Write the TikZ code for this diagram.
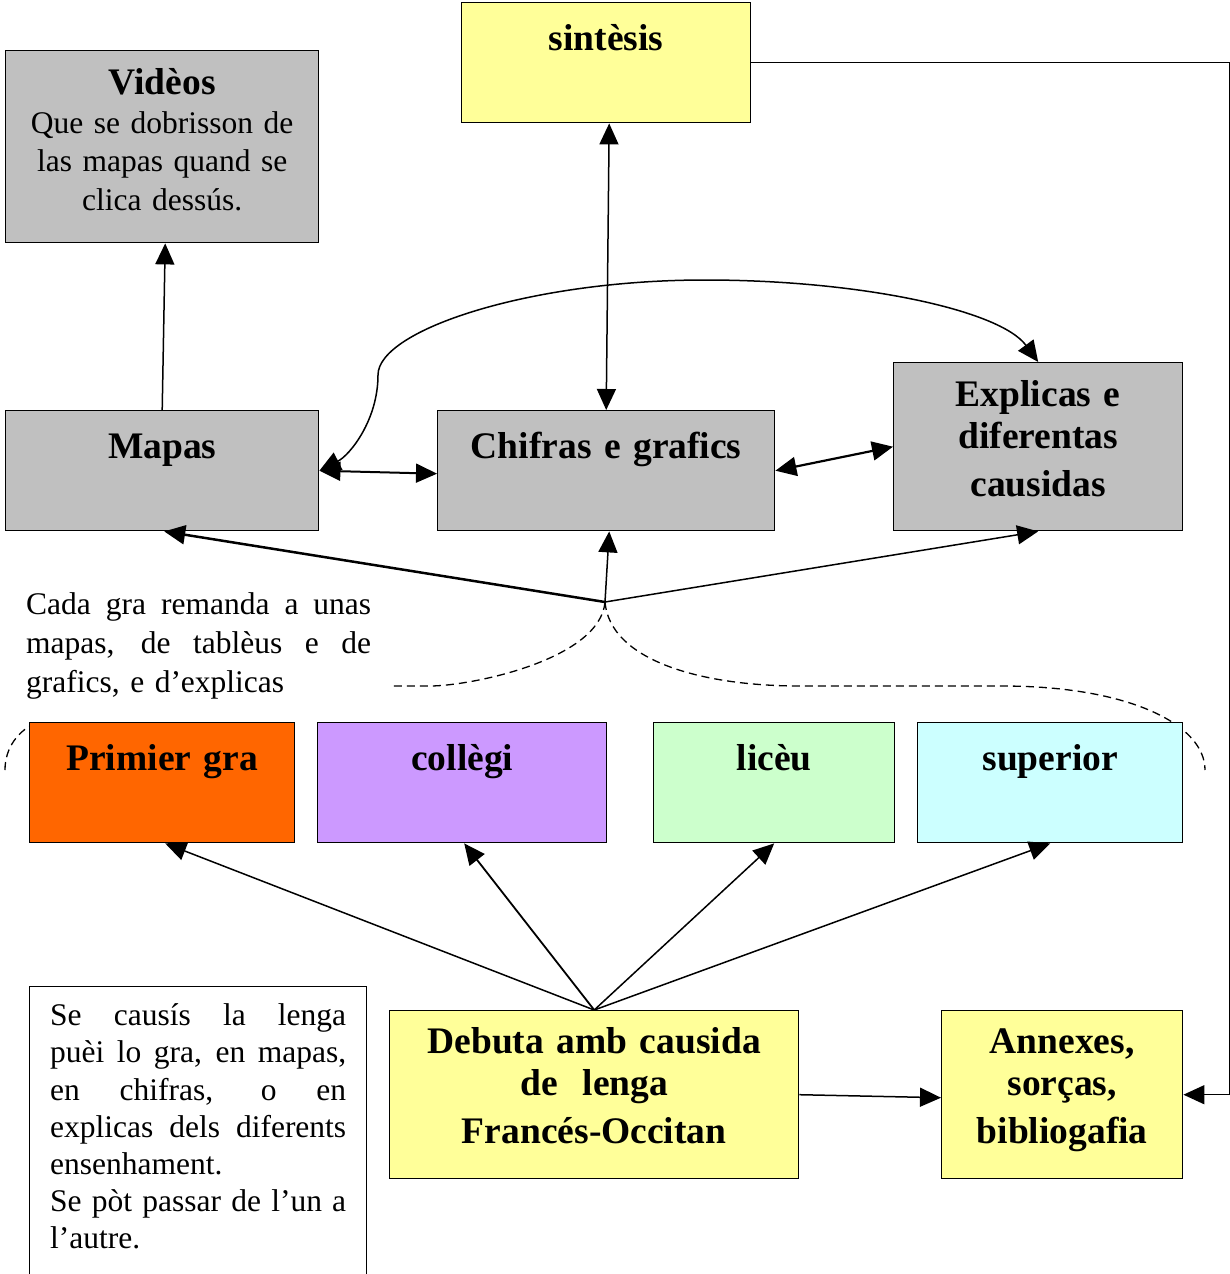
\documentclass[tikz,border=0pt]{standalone}
\usepackage{fontspec}
\setmainfont{Liberation Serif}
\usetikzlibrary{arrows.meta,calc}
\definecolor{cgray}{HTML}{C0C0C0}
\definecolor{cyellow}{HTML}{FFFF99}
\definecolor{corange}{HTML}{FF6600}
\definecolor{cpurple}{HTML}{CC99FF}
\definecolor{cgreen}{HTML}{CCFFCC}
\definecolor{ccyan}{HTML}{CCFFFF}
\newcommand\titlefnt{\fontsize{37.5}{42}\selectfont\bfseries}
\newcommand\bodyfnt{\fontsize{31.5}{38.5}\selectfont}
\newcommand\jline[1]{\makebox[\linewidth][s]{\spaceskip=0pt\relax\xspaceskip=0pt\relax #1}}
\begin{document}
\begin{tikzpicture}[x=1pt,y=-1pt,
  box/.style={draw, line width=1.4pt, inner sep=0pt, align=center, anchor=north west, font=\titlefnt},
  onebox/.style={box, text height=48pt, text depth=72pt},
  tip/.tip={Triangle[length=21pt,width=19pt]},
  arr/.style={-tip, line width=1.5pt},
  darr/.style={tip-tip, line width=1.5pt},
  dashline/.style={line width=1.3pt, dash pattern=on 8pt off 5pt}]
\useasboundingbox (0,0) rectangle (1230,1274);

% dashed grouping curves
\draw[dashline] (5,770) .. controls (5,748) and (18,730) .. (38,722);
\coordinate (hub) at (605,602);
\draw[dashline] (hub) .. controls (600,660) and (470,686) .. (430,686) -- (390,686);
\draw[dashline] (hub) .. controls (610,660) and (700,686) .. (800,686) -- (1002,686)
   .. controls (1130,686) and (1205,725) .. (1205,770);

% boxes
\node[box, fill=cgray, text width=313pt, text height=44pt, text depth=148pt, font=\bodyfnt] (videos) at (5,50)
  {{\titlefnt Vidèos}\\Que se dobrisson de\\las mapas quand se\\clica dessús.};
\node[onebox, fill=cyellow, text width=289pt] (sintesis) at (461,2) {sintèsis};
\node[onebox, fill=cgray, text width=313pt] (mapas) at (5,410) {Mapas};
\node[onebox, fill=cgray, text width=337pt] (chifras) at (437,410) {Chifras e grafics};
\node[box, fill=cgray, text width=289pt, text height=44pt, text depth=124pt] (explicas) at (893,362)
  {Explicas e\\diferentas\\[6pt]causidas};

\node[onebox, fill=corange, text width=265pt] (primier) at (29,722) {Primier gra};
\node[onebox, fill=cpurple, text width=289pt] (college) at (317,722) {collègi};
\node[onebox, fill=cgreen, text width=241pt] (liceu) at (653,722) {licèu};
\node[onebox, fill=ccyan, text width=265pt] (superior) at (917,722) {superior};

\node[box, fill=cyellow, text width=409pt, text height=43pt, text depth=125pt] (debuta) at (389,1010)
  {Debuta amb causida\\de\ \ lenga\\[6pt]Francés-Occitan};
\node[box, fill=cyellow, text width=241pt, text height=43pt, text depth=125pt] (annexes) at (941,1010)
  {Annexes,\\sorças,\\[6pt]bibliogafia};

% text notes
\node[anchor=north west, inner sep=0pt, text width=345pt, align=left,
      font=\fontsize{31.5}{39}\selectfont, text height=30pt] (cada) at (26,584)
  {\jline{Cada gra remanda a unas}\\
   \jline{mapas, de tablèus e de}\\
   grafics, e d’explicas};

\node[draw, line width=1.4pt, anchor=north west, inner xsep=20.5pt, inner ysep=0pt,
      text width=296pt, align=left, font=\fontsize{31.5}{37.2}\selectfont,
      text height=39pt, text depth=260pt] (note) at (29,986)
  {\jline{Se causís la lenga}\\
   \jline{puèi lo gra, en mapas,}\\
   \jline{en chifras, o en}\\
   \jline{explicas dels diferents}\\
   ensenhament.\\
   \jline{Se pòt passar de l’un a}\\
   l’autre.};

% connectors
\draw[arr] (mapas.north) -- ([xshift=3pt]videos.south);
\draw[darr] ([xshift=3pt]sintesis.south) -- (chifras.north);
\draw[darr] (mapas.east) .. controls (350,455) and (378,420) .. (378,375)
   .. controls (378,330) and (530,280) .. (705,280)
   .. controls (860,280) and (1000,310) .. (explicas.north);
\draw[darr, line width=2pt] (mapas.east) -- ([yshift=-3pt]chifras.west);
\draw[darr, line width=2.2pt] (chifras.east) -- (explicas.west);

\draw[arr, line width=2.5pt] (hub) -- ([xshift=2pt]mapas.south);
\draw[arr] (hub) -- ([xshift=3pt]chifras.south);
\draw[arr] (hub) -- (explicas.south);

\draw[arr] (debuta.north) -- ([xshift=3pt]primier.south);
\draw[arr, line width=1.8pt] (debuta.north) -- ([xshift=2pt]college.south);
\draw[arr] (debuta.north) -- (liceu.south);
\draw[arr] (debuta.north) -- (superior.south);

\draw[arr] (debuta.east) -- ([yshift=-3pt]annexes.west);
\draw[arr] (sintesis.east) -- ++(478,0) |- (annexes.east);
\end{tikzpicture}
\end{document}
